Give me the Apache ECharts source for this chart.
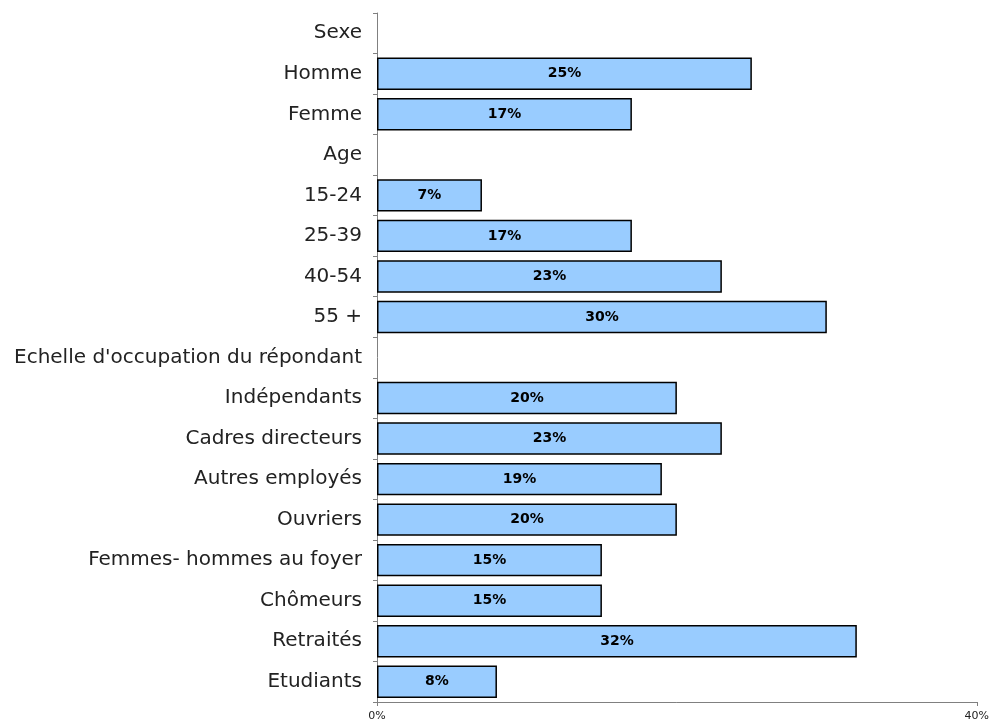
<!DOCTYPE html>
<html>
<head>
<meta charset="utf-8">
<script src="https://cdn.jsdelivr.net/npm/echarts@6/dist/echarts.min.js"></script>
<style>
    html, body { margin: 0; padding: 0; background: #fff; }
    #chart { width: 992px; height: 726px; }
</style>
</head>
<body>
<div id="chart"></div>
<script>
    // catégories (de haut en bas) et valeurs en %
    var categories = ['Sexe', 'Homme', 'Femme', 'Age', '15-24', '25-39', '40-54', '55 +',
        "Echelle d'occupation du répondant", 'Indépendants', 'Cadres directeurs', 'Autres employés',
        'Ouvriers', 'Femmes- hommes au foyer', 'Chômeurs', 'Retraités', 'Etudiants'];
    var values = [null, 25, 17, null, 7, 17, 23, 30, null, 20, 23, 19, 20, 15, 15, 32, 8];
    var axisMin = 0, axisMax = 40, axisStep = 40;

    var chart = echarts.init(document.getElementById('chart'));
    var option = {
        animation: false,
        grid: {left: 377, right: 12, top: 13, bottom: 24},
        xAxis: {
            type: 'value',
            min: axisMin,
            max: axisMax,
            interval: axisStep,
            splitLine: {show: false},
            axisLine: {show: true, lineStyle: {color: '#808080', width: 1}},
            axisTick: {show: true, length: 4, lineStyle: {color: '#808080'}},
            axisLabel: {
                formatter: '{value}%',
                color: '#222',
                fontSize: 11,
                fontFamily: 'DejaVu Sans',
                margin: 9
            }
        },
        yAxis: {
            type: 'category',
            data: categories,
            inverse: true,
            axisLine: {show: true, lineStyle: {color: '#808080', width: 1}},
            axisTick: {show: true, length: 4, lineStyle: {color: '#808080'}},
            axisLabel: {
                color: '#222',
                fontSize: 20,
                fontFamily: 'DejaVu Sans',
                margin: 15
            }
        },
        series: [{
            type: 'bar',
            data: values,
            barCategoryGap: '20%',
            itemStyle: {color: '#99ccff', borderColor: '#000', borderWidth: 1.5},
            label: {
                show: true,
                position: 'inside',
                formatter: function (p) { return p.value + '%'; },
                color: '#000',
                fontSize: 14,
                fontWeight: 'bold',
                fontFamily: 'DejaVu Sans'
            }
        }]
    };
    chart.setOption(option);
</script>
</body>
</html>
